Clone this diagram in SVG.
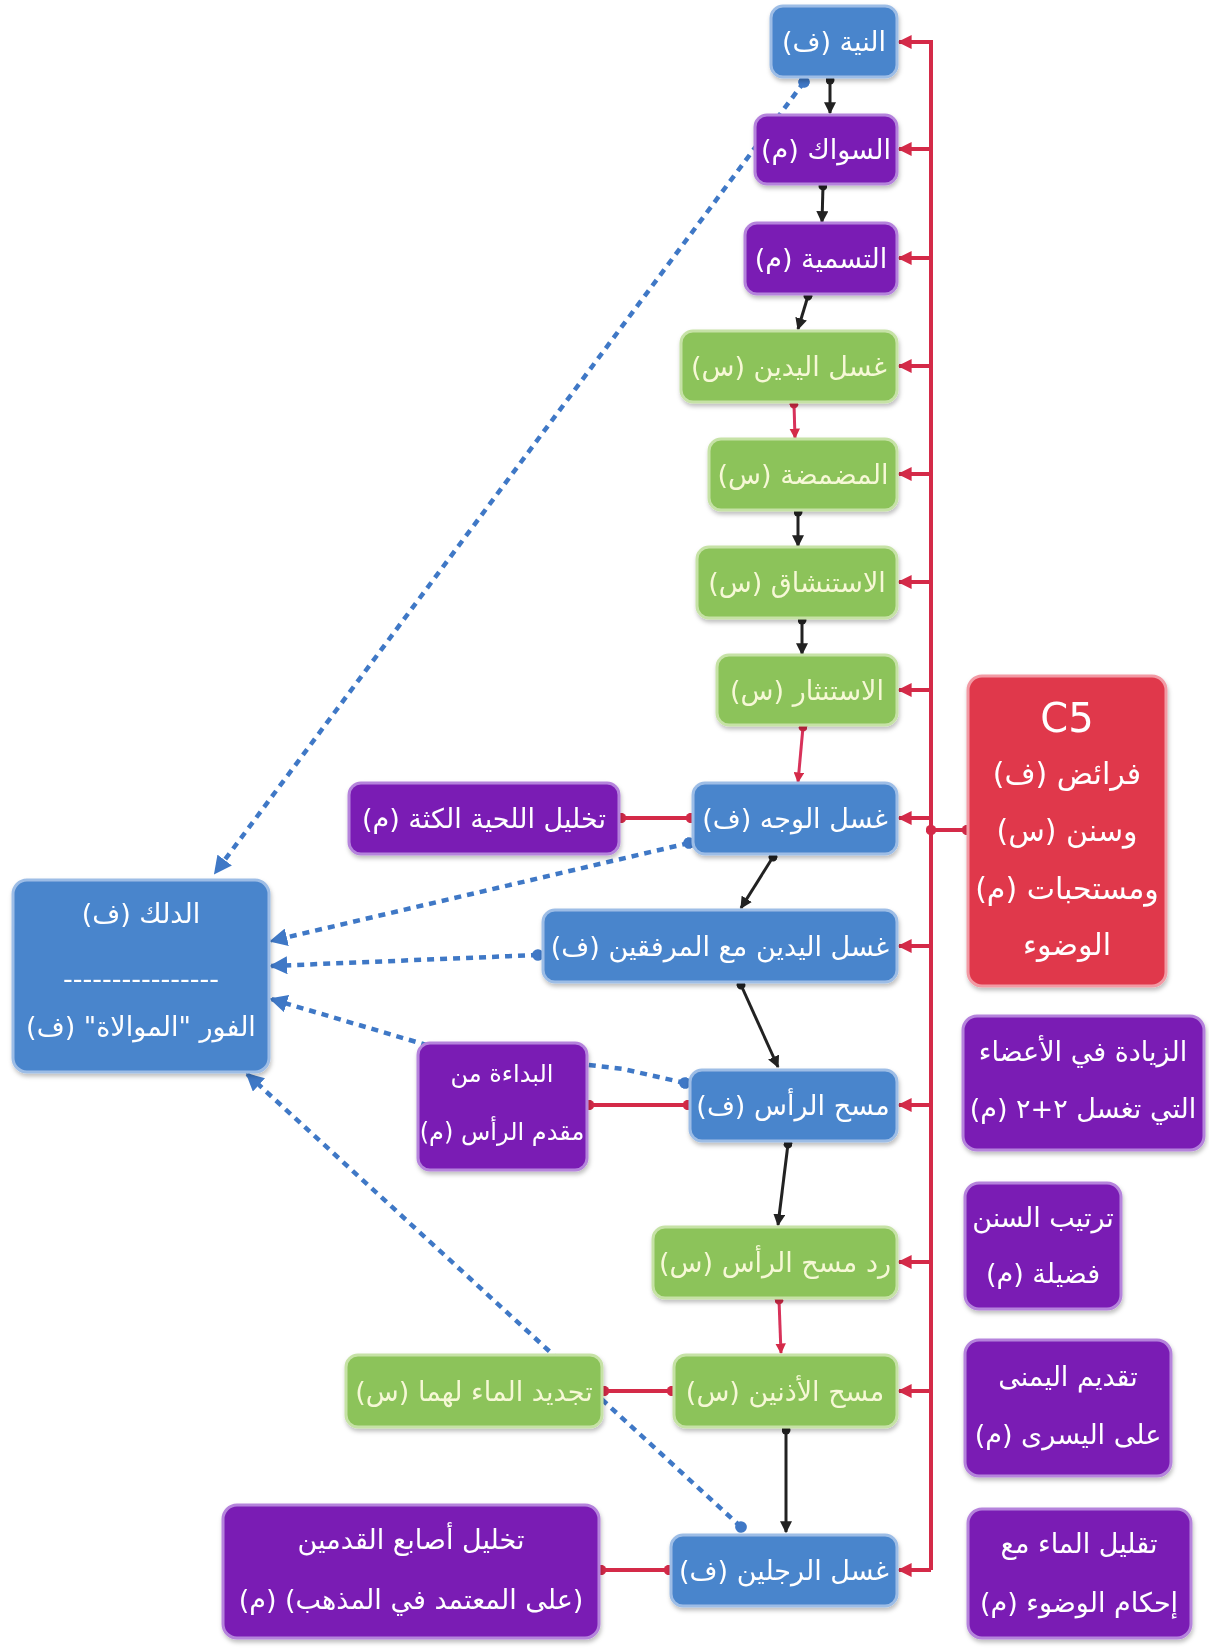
<svg xmlns="http://www.w3.org/2000/svg" width="1209" height="1648" viewBox="0 0 1209 1648">
<defs>
<style>
.node rect{stroke-width:3}
.blue rect{fill:#4a85cc;stroke:#9dbde6}
.purple rect{fill:#7a1fb4;stroke:#b583dc}
.green rect{fill:#8cc35a;stroke:#c6e2a6}
.red rect{fill:#e0384c;stroke:#f29aa4}
text{font-family:"DejaVu Sans","Noto Sans",sans-serif;font-size:27px;fill:#ffffff;text-anchor:middle;dominant-baseline:central;direction:rtl}
.green text{fill:#f6f8d6}
.c5 text{font-size:30px}
.c5 .big{font-size:40px;direction:ltr}
.sm text{font-size:24px}
.blk{stroke:#222;stroke-width:3;fill:none;marker-start:url(#dotK);marker-end:url(#arrK)}
.pnk{stroke:#d8325a;stroke-width:3;fill:none;marker-start:url(#dotR);marker-end:url(#arrR)}
.rl{stroke:#d42a48;stroke-width:4;fill:none}
.ra{stroke:#d42a48;stroke-width:4;fill:none;marker-end:url(#arrR)}
.rs{stroke:#d42a48;stroke-width:4;fill:none;marker-start:url(#capR);marker-end:url(#capR)}
.bd{stroke:#3f78c6;stroke-width:4.5;fill:none;stroke-dasharray:7 6;marker-start:url(#dotB);marker-end:url(#arrB)}
</style>
<marker id="arrK" viewBox="0 0 10 10" refX="9" refY="5" markerWidth="4" markerHeight="4" orient="auto" markerUnits="strokeWidth"><path d="M0,0 L10,5 L0,10 z" fill="#222"/></marker>
<marker id="dotK" viewBox="0 0 10 10" refX="5" refY="5" markerWidth="3" markerHeight="3" orient="auto" markerUnits="strokeWidth"><circle cx="5" cy="5" r="5" fill="#222"/></marker>
<marker id="arrR" viewBox="0 0 10 10" refX="9" refY="5" markerWidth="3.5" markerHeight="3.5" orient="auto" markerUnits="strokeWidth"><path d="M0,0 L10,5 L0,10 z" fill="#d42a48"/></marker>
<marker id="dotR" viewBox="0 0 10 10" refX="5" refY="5" markerWidth="3" markerHeight="3" orient="auto" markerUnits="strokeWidth"><circle cx="5" cy="5" r="5" fill="#d42a48"/></marker>
<marker id="capR" viewBox="0 0 10 10" refX="5" refY="5" markerWidth="2.6" markerHeight="2.6" orient="auto" markerUnits="strokeWidth"><circle cx="5" cy="5" r="5" fill="#d42a48"/></marker>
<marker id="arrB" viewBox="0 0 10 10" refX="9" refY="5" markerWidth="4" markerHeight="4" orient="auto" markerUnits="strokeWidth"><path d="M0,0 L10,5 L0,10 z" fill="#3f78c6"/></marker>
<marker id="dotB" viewBox="0 0 10 10" refX="5" refY="5" markerWidth="2.6" markerHeight="2.6" orient="auto" markerUnits="strokeWidth"><circle cx="5" cy="5" r="5" fill="#3f78c6"/></marker>
<filter id="sh" x="-10%" y="-10%" width="120%" height="130%"><feDropShadow dx="1" dy="3" stdDeviation="2" flood-color="#000" flood-opacity="0.25"/></filter>
</defs>
<rect width="1209" height="1648" fill="#ffffff"/>

<g id="connectors">
  <path class="bd" d="M804,82 L215,873"/>
  <path class="bd" d="M689,843 L271,941"/>
  <path class="bd" d="M538,955 L271,966"/>
  <path class="bd" d="M685,1083 L623,1069 L430,1046 L271,999"/>
  <path class="bd" d="M741,1527 L247,1074"/>
  <path class="blk" d="M830,80 L830,113"/>
  <path class="blk" d="M823,186 L822,222"/>
  <path class="blk" d="M808,296 L798,329"/>
  <path class="pnk" d="M794,404 L795,438"/>
  <path class="blk" d="M798,512 L798,546"/>
  <path class="blk" d="M802,620 L802,654"/>
  <path class="pnk" d="M803,727 L798,782"/>
  <path class="blk" d="M773,857 L741,908"/>
  <path class="blk" d="M741,985 L778,1067"/>
  <path class="blk" d="M788,1144 L778,1225"/>
  <path class="pnk" d="M779,1300 L781,1353"/>
  <path class="blk" d="M786,1430 L786,1532"/>
  <path class="rl" d="M899,42 L931,42 L931,1570"/>
  <path class="ra" d="M931,42 L899,42"/>
  <path class="ra" d="M931,149 L899,149"/>
  <path class="ra" d="M931,258 L899,258"/>
  <path class="ra" d="M931,366 L899,366"/>
  <path class="ra" d="M931,474 L899,474"/>
  <path class="ra" d="M931,582 L899,582"/>
  <path class="ra" d="M931,690 L899,690"/>
  <path class="ra" d="M931,818 L899,818"/>
  <path class="ra" d="M931,946 L899,946"/>
  <path class="ra" d="M931,1105 L899,1105"/>
  <path class="ra" d="M931,1262 L899,1262"/>
  <path class="ra" d="M931,1391 L899,1391"/>
  <path class="ra" d="M931,1570 L899,1570"/>
  <path class="rs" d="M931,830 L967,830"/>
  <path class="rs" d="M621,818 L691,818"/>
  <path class="rs" d="M589,1105 L688,1105"/>
  <path class="rs" d="M604,1391 L672,1391"/>
  <path class="rs" d="M601,1570 L669,1570"/>
</g>

<g id="n-niyya" class="node blue" filter="url(#sh)"><rect x="771" y="6" width="126" height="71" rx="12"/><text x="834" y="41">النية (ف)</text></g>
<g id="n-siwak" class="node purple" filter="url(#sh)"><rect x="755" y="115" width="142" height="69" rx="12"/><text x="826" y="149">السواك (م)</text></g>
<g id="n-tasmiya" class="node purple" filter="url(#sh)"><rect x="745" y="223" width="152" height="71" rx="12"/><text x="821" y="258">التسمية (م)</text></g>
<g id="n-ghasl-yadayn" class="node green" filter="url(#sh)"><rect x="681" y="331" width="216" height="71" rx="12"/><text x="789" y="366">غسل اليدين (س)</text></g>
<g id="n-madmada" class="node green" filter="url(#sh)"><rect x="709" y="439" width="188" height="71" rx="12"/><text x="803" y="474">المضمضة (س)</text></g>
<g id="n-istinshaq" class="node green" filter="url(#sh)"><rect x="697" y="547" width="200" height="71" rx="12"/><text x="797" y="582">الاستنشاق (س)</text></g>
<g id="n-istinthar" class="node green" filter="url(#sh)"><rect x="717" y="655" width="180" height="70" rx="12"/><text x="807" y="690">الاستنثار (س)</text></g>
<g id="n-wajh" class="node blue" filter="url(#sh)"><rect x="693" y="783" width="204" height="71" rx="12"/><text x="795" y="818">غسل الوجه (ف)</text></g>
<g id="n-lihya" class="node purple" filter="url(#sh)"><rect x="349" y="783" width="270" height="71" rx="12"/><text x="484" y="818">تخليل اللحية الكثة (م)</text></g>
<g id="n-marfaqayn" class="node blue" filter="url(#sh)"><rect x="543" y="910" width="354" height="72" rx="12"/><text x="720" y="946">غسل اليدين مع المرفقين (ف)</text></g>
<g id="n-dalk" class="node blue" filter="url(#sh)"><rect x="13" y="880" width="256" height="192" rx="14"/><text x="141" y="913">الدلك (ف)</text><text x="141" y="978" style="direction:ltr">----------------</text><text x="141" y="1026">الفور "الموالاة" (ف)</text></g>
<g id="n-bidaa" class="node purple sm" filter="url(#sh)"><rect x="418" y="1043" width="169" height="127" rx="12"/><text x="502" y="1074">البداءة من</text><text x="502" y="1132">مقدم الرأس (م)</text></g>
<g id="n-mash-ras" class="node blue" filter="url(#sh)"><rect x="690" y="1070" width="207" height="71" rx="12"/><text x="793" y="1105">مسح الرأس (ف)</text></g>
<g id="n-radd" class="node green" filter="url(#sh)"><rect x="653" y="1227" width="244" height="71" rx="12"/><text x="775" y="1262">رد مسح الرأس (س)</text></g>
<g id="n-udhunayn" class="node green" filter="url(#sh)"><rect x="674" y="1355" width="223" height="72" rx="12"/><text x="785" y="1391">مسح الأذنين (س)</text></g>
<g id="n-tajdid" class="node green" filter="url(#sh)"><rect x="346" y="1355" width="256" height="72" rx="12"/><text x="474" y="1391">تجديد الماء لهما (س)</text></g>
<g id="n-rijlayn" class="node blue" filter="url(#sh)"><rect x="671" y="1535" width="226" height="71" rx="12"/><text x="784" y="1570">غسل الرجلين (ف)</text></g>
<g id="n-asabi" class="node purple" filter="url(#sh)"><rect x="223" y="1505" width="376" height="133" rx="14"/><text x="411" y="1539">تخليل أصابع القدمين</text><text x="411" y="1599">(على المعتمد في المذهب) (م)</text></g>
<g id="n-c5" class="node red c5" filter="url(#sh)"><rect x="968" y="676" width="198" height="310" rx="14"/><text class="big" x="1067" y="718">C5</text><text x="1067" y="773">فرائض (ف)</text><text x="1067" y="830">وسنن (س)</text><text x="1067" y="888">ومستحبات (م)</text><text x="1067" y="944">الوضوء</text></g>
<g id="n-ziyada" class="node purple" filter="url(#sh)"><rect x="963" y="1016" width="241" height="134" rx="14"/><text x="1083" y="1051">الزيادة في الأعضاء</text><text x="1083" y="1108">التي تغسل ٢+٢ (م)</text></g>
<g id="n-tartib" class="node purple" filter="url(#sh)"><rect x="965" y="1183" width="156" height="126" rx="14"/><text x="1043" y="1217">ترتيب السنن</text><text x="1043" y="1273">فضيلة (م)</text></g>
<g id="n-yumna" class="node purple" filter="url(#sh)"><rect x="965" y="1340" width="206" height="136" rx="14"/><text x="1068" y="1376">تقديم اليمنى</text><text x="1068" y="1434">على اليسرى (م)</text></g>
<g id="n-taqlil" class="node purple" filter="url(#sh)"><rect x="968" y="1509" width="223" height="129" rx="14"/><text x="1079" y="1543">تقليل الماء مع</text><text x="1079" y="1602">إحكام الوضوء (م)</text></g>
</svg>
